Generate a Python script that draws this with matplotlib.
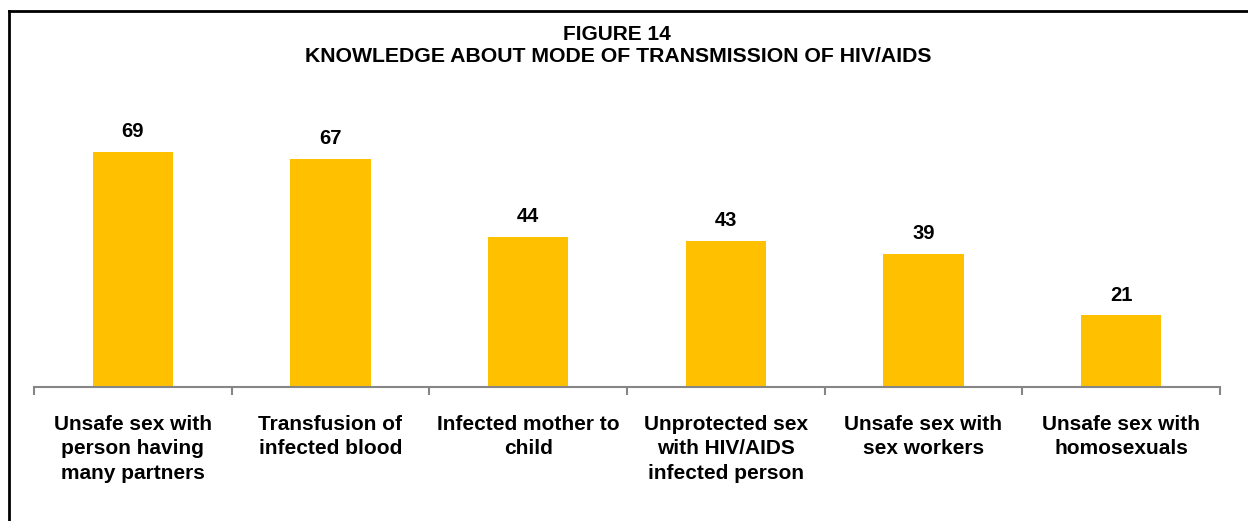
import numpy as np
import matplotlib.pyplot as plt
from matplotlib.lines import Line2D

categories = ['Unsafe sex with\nperson having\nmany partners',
              'Transfusion of\ninfected blood',
              'Infected mother to\nchild',
              'Unprotected sex\nwith HIV/AIDS\ninfected person',
              'Unsafe sex with\nsex workers',
              'Unsafe sex with\nhomosexuals']
values = [69, 67, 44, 43, 39, 21]

plt.rcParams['font.family'] = ['Liberation Sans', 'DejaVu Sans']

W, H = 1248, 521
fig = plt.figure(figsize=(W/100, H/100), dpi=100)

# axes placed in pixel terms
left, right, base, top = 34, 1220, 387, 114.5
ax = fig.add_axes([left/W, 1-base/H, (right-left)/W, (base-top)/H])

x = np.arange(len(values))
ax.bar(x, values, width=0.405, color='#FFC000')
ax.set_xlim(-0.5, len(values)-0.5)
ax.set_ylim(0, 80)

for xi, v in zip(x, values):
    ax.text(xi, v + 3.2, str(v), ha='center', va='bottom', fontsize=14.5, fontweight='bold')

for s in ['top', 'right', 'left']:
    ax.spines[s].set_visible(False)
ax.spines['bottom'].set_color('#868686')
ax.spines['bottom'].set_linewidth(1.5)
ax.set_yticks([])

# tick marks at category boundaries
ax.set_xticks(np.arange(-0.5, len(values)), minor=False)
ax.set_xticklabels([])
ax.tick_params(axis='x', direction='out', length=6, width=1.5, color='#868686')
ax.set_xticks(x, minor=True)
ax.set_xticklabels(categories, minor=True, fontsize=15, fontweight='bold', linespacing=1.36)
ax.tick_params(axis='x', which='minor', length=0, pad=20)

fig.text(617/W, 1-35/H, 'FIGURE 14', ha='center', va='center', fontsize=15, fontweight='bold')
fig.text(618/W, 1-56/H, 'KNOWLEDGE ABOUT MODE OF TRANSMISSION OF HIV/AIDS', ha='center', va='center',
         fontsize=15.3, fontweight='bold')

# frame (only top and left visible in the crop)
fig.add_artist(Line2D([9/W, 9/W], [0, 1-11/H], transform=fig.transFigure, color='black', lw=2))
fig.add_artist(Line2D([9/W, 1], [1-11/H, 1-11/H], transform=fig.transFigure, color='black', lw=2))

fig.savefig('out.png', dpi=100)
